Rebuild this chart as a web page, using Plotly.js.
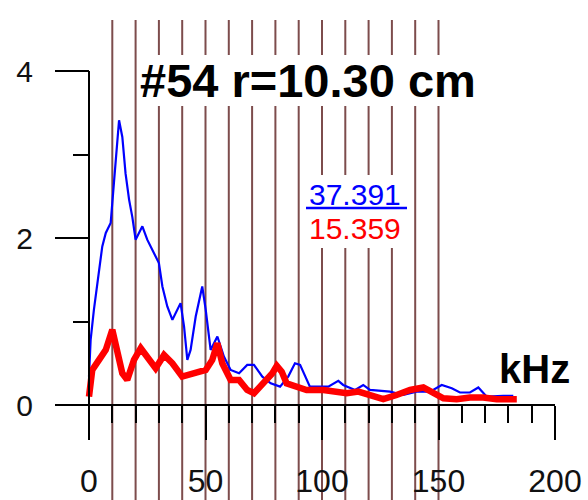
<!DOCTYPE html>
<html>
<head>
<meta charset="utf-8">
<script src="https://cdn.plot.ly/plotly-3.0.1.min.js"></script>
<style>
  html, body { margin: 0; padding: 0; background: #ffffff; }
  #chart { width: 588px; height: 500px; }
</style>
</head>
<body>
<div id="chart"></div>
<script>
// Spectrum of probe #54 (r = 10.30 cm), amplitude vs frequency in kHz
var blueFreq = [0, 0.7, 2.1, 4.3, 5.7, 7.2, 9.3, 10.7, 12.2, 12.9, 14.3, 15.7, 17.2, 18.6, 20.0, 22.9, 25.0, 27.9, 30.0, 31.5,
                33.6, 35.8, 39.3, 40.8, 42.2, 43.6, 45.8, 48.6, 50.1, 52.2, 55.1, 57.9, 60.8, 64.4, 67.9, 70.8, 74.4, 78.0, 82.0, 85.5,
                88.4, 90.6, 92.7, 94.8, 102.7, 107.0, 109.1, 114.2, 117.7, 120.6, 129.2, 134.9, 140.6, 146.4, 151.4, 155.7, 159.2, 163.5, 167.1, 170.7,
                177.8, 182.1];
var blueAmp  = [0.34, 0.78, 1.14, 1.62, 1.90, 2.06, 2.18, 2.66, 3.13, 3.41, 3.21, 2.77, 2.46, 2.25, 1.98, 2.14, 1.98, 1.82, 1.70, 1.42,
                1.18, 1.02, 1.22, 0.94, 0.54, 0.66, 1.06, 1.42, 1.14, 0.66, 0.82, 0.58, 0.42, 0.38, 0.48, 0.48, 0.34, 0.26, 0.22, 0.34,
                0.50, 0.48, 0.34, 0.22, 0.22, 0.29, 0.24, 0.18, 0.24, 0.18, 0.16, 0.12, 0.16, 0.16, 0.24, 0.20, 0.15, 0.15, 0.21, 0.10,
                0.11, 0.11];

var redFreq = [0, 1.4, 4.3, 7.2, 10.0, 12.2, 14.3, 16.4, 19.3, 22.2, 25.0, 28.6, 32.2, 35.8, 40.0, 45.1, 50.1, 52.9, 55.1, 57.2,
               60.8, 64.4, 67.9, 70.8, 75.1, 78.7, 80.6, 82.7, 84.8, 89.1, 93.4, 100.6, 106.3, 110.6, 115.6, 120.6, 126.3, 132.0, 137.8, 143.5,
               147.8, 152.1, 157.8, 163.5, 169.2, 175.0, 183.6];
var redAmp  = [0.10, 0.42, 0.54, 0.66, 0.90, 0.62, 0.38, 0.30, 0.54, 0.68, 0.58, 0.44, 0.60, 0.50, 0.34, 0.38, 0.42, 0.54, 0.74, 0.50,
               0.30, 0.30, 0.18, 0.14, 0.26, 0.38, 0.47, 0.40, 0.26, 0.22, 0.18, 0.18, 0.16, 0.14, 0.16, 0.11, 0.07, 0.12, 0.18, 0.21,
               0.14, 0.08, 0.07, 0.09, 0.09, 0.07, 0.07];

// vertical marker lines every 10 kHz
var markerFreqs = [10, 20, 30, 40, 50, 60, 70, 80, 90, 100, 110, 120, 130, 140, 150];

var xMajorTicks = [0, 50, 100, 150, 200];
var xMinorTicks = [10, 20, 30, 40, 60, 70, 80, 90, 110, 120, 130, 140, 160, 170, 180, 190];
var yMajorTicks = [0, 2, 4];
var yMinorTicks = [1, 3];

var titleText = '#54 r=10.30 cm';
var blueValue = '37.391';
var redValue = '15.359';
var unitText = 'kHz';

// scale: 2.33 px per kHz, 83.5 px per unit, origin at (89, 405)
var W = 588, H = 500, ox = 89, oy = 405, kx = 2.33, ky = 83.5;
var xRange = [-ox / kx, (W - ox) / kx];
var yRange = [-(H - oy) / ky, oy / ky];

function paperRect(x0, y0, x1, y1) {
  return {type: 'rect', layer: 'below', xref: 'paper', yref: 'paper',
          x0: x0 / W, x1: x1 / W, y0: 1 - y1 / H, y1: 1 - y0 / H,
          fillcolor: '#ffffff', line: {width: 0}};
}

var shapes = [];
markerFreqs.forEach(function (f) {
  shapes.push({type: 'line', layer: 'below', xref: 'x', yref: 'paper',
               x0: f, x1: f, y0: 0, y1: (H - 20) / H,
               line: {color: '#7d4c4c', width: 2}});
});
// white panels behind the title and the summary values
shapes.push(paperRect(139, 55, 480, 106));
shapes.push(paperRect(302, 175, 407, 248));
// axis spines
shapes.push({type: 'line', layer: 'above', xref: 'x', yref: 'y', x0: 0, x1: 0, y0: 0, y1: 4,
             line: {color: '#000000', width: 2}});
shapes.push({type: 'line', layer: 'above', xref: 'x', yref: 'y', x0: 0, x1: 200, y0: 0, y1: 0,
             line: {color: '#000000', width: 2}});
// rule between the two summary values
shapes.push({type: 'line', layer: 'above', xref: 'paper', yref: 'paper',
             x0: 306 / W, x1: 407 / W, y0: 1 - 208 / H, y1: 1 - 208 / H,
             line: {color: '#0000ff', width: 2.5}});

var traces = [
  {x: blueFreq, y: blueAmp, type: 'scatter', mode: 'lines',
   line: {color: '#0000ff', width: 2.2}, hoverinfo: 'skip'},
  {x: redFreq, y: redAmp, type: 'scatter', mode: 'lines',
   line: {color: '#ff0000', width: 6.5}, hoverinfo: 'skip'}
];

var tickFont = {family: 'Liberation Sans, Arial, sans-serif', size: 32, color: '#111111'};

var layout = {
  width: W, height: H,
  margin: {l: 0, r: 0, t: 0, b: 0, pad: 0},
  paper_bgcolor: '#ffffff', plot_bgcolor: '#ffffff',
  showlegend: false,
  xaxis: {
    range: xRange, domain: [0, 1], anchor: 'free', position: (H - oy) / H,
    showline: false, showgrid: false, zeroline: false,
    tickmode: 'array', tickvals: xMajorTicks, ticktext: xMajorTicks.map(String),
    ticks: 'outside', ticklen: 34, tickwidth: 2, tickcolor: '#000000',
    ticklabelstandoff: 14,
    tickfont: tickFont,
    minor: {tickmode: 'array', tickvals: xMinorTicks, ticks: 'outside', ticklen: 17,
            tickwidth: 2, tickcolor: '#000000', showgrid: false}
  },
  yaxis: {
    range: yRange, domain: [0, 1], anchor: 'free', position: ox / W,
    showline: false, showgrid: false, zeroline: false,
    tickmode: 'array', tickvals: yMajorTicks, ticktext: yMajorTicks.map(String),
    ticks: 'outside', ticklen: 34, tickwidth: 2, tickcolor: '#000000',
    ticklabelstandoff: 16,
    tickfont: {family: tickFont.family, size: 30, color: '#111111'},
    minor: {tickmode: 'array', tickvals: yMinorTicks, ticks: 'outside', ticklen: 16,
            tickwidth: 2, tickcolor: '#000000', showgrid: false}
  },
  shapes: shapes,
  annotations: [
    {text: '<b>' + titleText + '</b>', xref: 'paper', yref: 'paper',
     x: 308 / W, y: 1 - 80 / H, xanchor: 'center', yanchor: 'middle', showarrow: false,
     font: {family: 'Liberation Sans, Arial, sans-serif', size: 47, color: '#000000'}},
    {text: blueValue, xref: 'paper', yref: 'paper',
     x: 355 / W, y: 1 - 194 / H, xanchor: 'center', yanchor: 'middle', showarrow: false,
     font: {family: 'Liberation Sans, Arial, sans-serif', size: 30, color: '#0000ff'}},
    {text: redValue, xref: 'paper', yref: 'paper',
     x: 355 / W, y: 1 - 229 / H, xanchor: 'center', yanchor: 'middle', showarrow: false,
     font: {family: 'Liberation Sans, Arial, sans-serif', size: 30, color: '#ff0000'}},
    {text: '<b>' + unitText + '</b>', xref: 'paper', yref: 'paper',
     x: 534 / W, y: 1 - 369 / H, xanchor: 'center', yanchor: 'middle', showarrow: false,
     font: {family: 'Liberation Sans, Arial, sans-serif', size: 40, color: '#000000'}}
  ]
};

Plotly.newPlot('chart', traces, layout, {staticPlot: true, displayModeBar: false});
</script>
</body>
</html>
